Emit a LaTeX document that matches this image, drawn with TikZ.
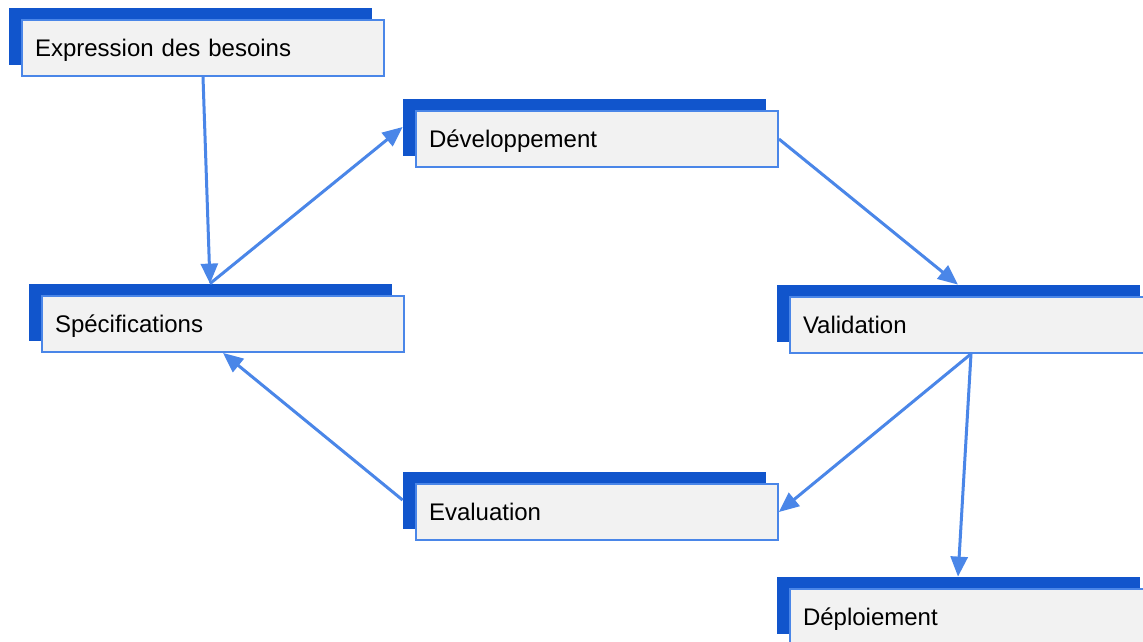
\documentclass[tikz,border=0pt]{standalone}
\usepackage{fontspec}
\setmainfont{Liberation Sans}
\usetikzlibrary{arrows.meta}
\definecolor{backblue}{HTML}{1155CC}
\definecolor{edgeblue}{HTML}{4A86E8}
\definecolor{boxgray}{HTML}{F2F2F2}
\tikzset{
  stepback/.style={rectangle,fill=backblue,draw=backblue,line width=0.8pt,minimum width=362pt,minimum height=56pt,inner sep=0pt},
  stepfront/.style={rectangle,fill=boxgray,draw=edgeblue,line width=1.8pt,minimum width=362pt,minimum height=56pt,
    text width=336pt,align=left,inner xsep=13pt,inner ysep=0pt,text height=17pt,text depth=0pt,
    font=\fontsize{24}{28}\selectfont},
  flow/.style={draw=edgeblue,line width=3pt,-{Triangle[length=20pt,width=17pt]}}
}

\begin{document}
\begin{tikzpicture}[x=1pt,y=-1pt]
\clip (0,0) rectangle (1143,641);
\fill[white] (0,0) rectangle (1143,641);

\node[stepback](expb) at (190,36) {};
\node[stepfront](exp) at (203,48) {Expression des besoins};
\node[stepback](devb) at (584,127) {};
\node[stepfront](dev) at (597,139) {Développement};
\node[stepback](specb) at (210,312) {};
\node[stepfront](spec) at (223,324) {Spécifications};
\node[stepback](valb) at (958,313) {};
\node[stepfront](val) at (971,325) {Validation};
\node[stepback](evalb) at (584,500) {};
\node[stepfront](eval) at (597,512) {Evaluation};
\node[stepback](depb) at (958,605) {};
\node[stepfront](dep) at (971,617) {Déploiement};

\draw[flow] (exp.south) -- (specb.north);
\draw[flow] (specb.north) -- (devb.west);
\draw[flow] (dev.east) -- (valb.north);
\draw[flow] (val.south) -- (eval.east);
\draw[flow] (val.south) -- (depb.north);
\draw[flow] (evalb.west) -- (spec.south);
\end{tikzpicture}
\end{document}
